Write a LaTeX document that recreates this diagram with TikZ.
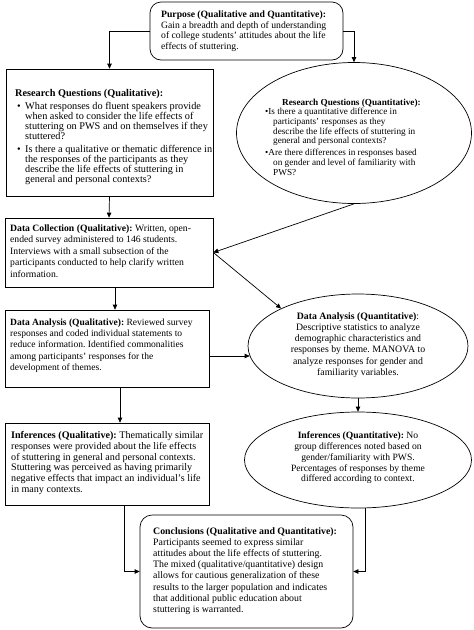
\documentclass[tikz,border=0pt]{standalone}
\usepackage{fontspec}
\setmainfont{Liberation Serif}
\usetikzlibrary{shapes.geometric,arrows.meta,calc}
\frenchspacing
\newcommand\qb{\hspace*{2pt}\makebox[8pt][l]{\textbullet}}
\newcommand\qi{\hspace*{10pt}}
\newlength\fitlen
\newcommand\fitfont[3]{\settowidth\fitlen{\fontsize{10}{12}\selectfont #2}\pgfmathsetmacro\fitsz{10*#1/\fitlen}\fontsize{\fitsz pt}{#3pt}\selectfont}
\begin{document}
\begin{tikzpicture}[x=1pt,y=-1pt,
  box/.style={draw,line width=0.7pt,inner sep=0pt},
  rbox/.style={box,rounded corners=11pt},
  oval/.style={draw,ellipse,line width=0.7pt,inner sep=0pt},
  txt/.style={inner sep=0pt,align=left},
  ctxt/.style={txt,align=center},
  arr/.style={line width=0.7pt,-{Triangle[length=5pt,width=4.5pt]}}]
\useasboundingbox (0,0) rectangle (474,630);

% boxes
\node[rbox,minimum width=193pt,minimum height=58pt] (pur) at (246.5,31) {};
\node[txt,anchor=west,font={\fitfont{165}{Gain a breadth and depth of understanding}{10.5}}] (purt) at (161,31) {\textbf{Purpose (Qualitative and Quantitative):}\\
Gain a breadth and depth of understanding\\
of college students' attitudes about the life\\
effects of stuttering.};

\node[box,minimum width=207pt,minimum height=127pt] (rqq) at (109.5,132.5) {};
\node[txt,anchor=west,font={\fitfont{187}{Is there a qualitative or thematic difference in}{10}}] (rqqt) at (15,137) {\textbf{Research Questions (Qualitative):}\\[3pt]
\qb What responses do fluent speakers provide\\
\qi when asked to consider the life effects of\\
\qi stuttering on PWS and on themselves if they\\
\qi stuttered?\\[3pt]
\qb Is there a qualitative or thematic difference in\\
\qi the responses of the participants as they\\
\qi describe the life effects of stuttering in\\
\qi general and personal contexts?};

\node[oval,minimum width=235pt,minimum height=141pt] (rqn) at (354,133) {};
\node[txt,anchor=west,font={\fitfont{142}{describe the life effects of stuttering in}{9.7}}] (rqnt) at (265,137) {\hspace*{17pt}\textbf{Research Questions (Quantitative):}\\
\textbullet Is there a quantitative difference in\\
\hspace*{8pt}participants' responses as they\\
\hspace*{8pt}describe the life effects of stuttering in\\
\hspace*{8pt}general and personal contexts?\\[2pt]
\textbullet Are there differences in responses based\\
\hspace*{8pt}on gender and level of familiarity with\\
\hspace*{8pt}PWS?};

\node[box,minimum width=208pt,minimum height=69pt] (dc) at (109,252.5) {};
\node[txt,anchor=west,font={\fitfont{167}{ended survey administered to 146 students.}{11.4}}] (dct) at (10,251) {\textbf{Data Collection (Qualitative):} Written, open-\\
ended survey administered to 146 students.\\
Interviews with a small subsection of the\\
participants conducted to help clarify written\\
information.};

\node[box,minimum width=204pt,minimum height=77pt] (daql) at (107,348.5) {};
\node[txt,anchor=west,font={\fitfont{172}{responses and coded individual statements to}{11.2}}] (daqlt) at (10,345.5) {\textbf{Data Analysis (Qualitative):} Reviewed survey\\
responses and coded individual statements to\\
reduce information. Identified commonalities\\
among participants' responses for the\\
development of themes.};

\node[oval,minimum width=220pt,minimum height=104pt] (daq) at (358,346) {};
\node[ctxt,font={\fitfont{130}{analyze responses for gender and}{11.2}}] (daqt) at (358,345) {\textbf{Data Analysis (Quantitative)}:\\
Descriptive statistics to analyze\\
demographic characteristics and\\
responses by theme. MANOVA to\\
analyze responses for gender and\\
familiarity variables.};

\node[box,minimum width=204pt,minimum height=82pt] (infq) at (107,464) {};
\node[txt,anchor=west,font={\fitfont{185}{responses were provided about the life effects}{10.7}}] (infqt) at (11,463) {\textbf{Inferences (Qualitative):} Thematically similar\\
responses were provided about the life effects\\
of stuttering in general and personal contexts.\\
Stuttering was perceived as having primarily\\
negative effects that impact an individual's life\\
in many contexts.};

\node[oval,minimum width=227pt,minimum height=96pt] (infn) at (358,460) {};
\node[ctxt,font={\fitfont{134}{Percentages of responses by theme}{10.7}}] (infnt) at (358,458) {\textbf{Inferences (Quantitative):} No\\
group differences noted based on\\
gender/familiarity with PWS.\\
Percentages of responses by theme\\
differed according to context.};

\node[rbox,rounded corners=12pt,minimum width=213pt,minimum height=113pt] (conc) at (246.5,571.5) {};
\node[txt,anchor=west,font={\fitfont{174}{results to the larger population and indicates}{11.1}}] (conct) at (153,571) {\textbf{Conclusions (Qualitative and Quantitative):}\\
Participants seemed to express similar\\
attitudes about the life effects of stuttering.\\
The mixed (qualitative/quantitative) design\\
allows for cautious generalization of these\\
results to the larger population and indicates\\
that additional public education about\\
stuttering is warranted.};

% connectors
\draw[arr] (pur.west) -| (rqq.north);
\draw[arr] (pur.east) -| (rqn.north);
\draw[arr] (rqq.south) -- (dc.north);
\draw[arr] (rqn.south) -- (dc.east);
\draw[arr] (dc.east) -- (daq.154);
\draw[arr] ([xshift=6pt]dc.south) -- ([xshift=6pt]dc.south |- daql.north);
\draw[arr] ([yshift=-7.5pt]daql.east) -- ([yshift=-7.5pt,xshift=2pt]daql.east -| daq.west);
\draw[arr] ([xshift=13pt]daql.south) -- ([xshift=13pt]daql.south |- infq.north);
\draw[arr] (daq.south) -- (infn.north);
\draw[arr] ([xshift=17pt]infq.south) |- (conc.west);
\draw[arr] ([xshift=7pt]infn.south) |- (conc.east);
\end{tikzpicture}
\end{document}
